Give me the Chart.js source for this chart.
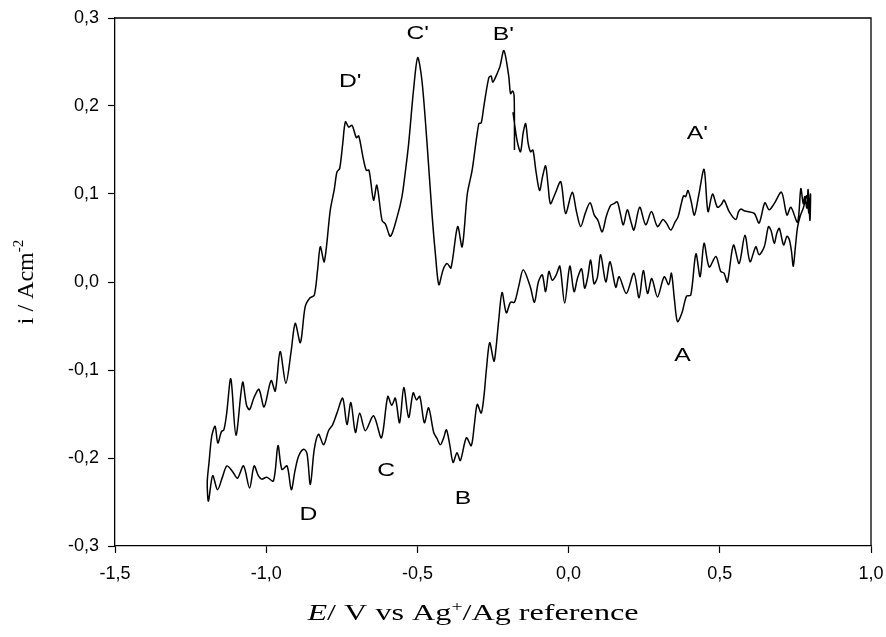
<!DOCTYPE html>
<html lang="en">
<head>
    <meta charset="UTF-8">
    <title>Cyclic voltammogram</title>
    <style>
        body {
            margin: 0;
            padding: 0;
            background-color: #ffffff;
        }

        #wrap {
            width: 886px;
            height: 637px;
        }
    </style>
    <script src="https://cdn.jsdelivr.net/npm/chart.js"></script>
</head>
<body>

<div id="wrap">
    <canvas id="myChart" width="886" height="637"></canvas>
</div>

<script>
    // Scan 1: from the start at -0.18 V towards the positive end (upper branch)
    const forwardE = [-0.184, -0.170, -0.159, -0.150, -0.142, -0.134, -0.126, -0.118, -0.108, -0.096,
        -0.086, -0.076, -0.068, -0.060, -0.045, -0.026, -0.010, 0.012, 0.026, 0.040,
        0.055, 0.071, 0.085, 0.097, 0.111, 0.125, 0.139, 0.150, 0.161, 0.171,
        0.181, 0.194, 0.205, 0.216, 0.235, 0.255, 0.274, 0.294, 0.312, 0.325,
        0.338, 0.352, 0.362, 0.372, 0.380, 0.387, 0.395, 0.405, 0.416, 0.430,
        0.448, 0.461, 0.476, 0.492, 0.505, 0.514, 0.531, 0.553, 0.562, 0.570,
        0.580, 0.592, 0.614, 0.630, 0.649, 0.663, 0.680, 0.704, 0.722, 0.735,
        0.757, 0.768, 0.776, 0.781, 0.788, 0.792, 0.798];
    const forwardI = [0.193, 0.160, 0.148, 0.170, 0.180, 0.158, 0.148, 0.150, 0.126, 0.104,
        0.120, 0.132, 0.110, 0.089, 0.100, 0.114, 0.078, 0.102, 0.080, 0.063,
        0.078, 0.090, 0.076, 0.070, 0.057, 0.075, 0.087, 0.089, 0.091, 0.078,
        0.065, 0.082, 0.070, 0.059, 0.085, 0.065, 0.080, 0.063, 0.071, 0.066,
        0.059, 0.068, 0.074, 0.088, 0.098, 0.097, 0.104, 0.092, 0.076, 0.098,
        0.128, 0.080, 0.100, 0.085, 0.088, 0.093, 0.080, 0.071, 0.080, 0.083,
        0.081, 0.080, 0.078, 0.067, 0.090, 0.082, 0.089, 0.102, 0.076, 0.085,
        0.068, 0.106, 0.089, 0.097, 0.084, 0.105, 0.070];

    // Scan 2: reverse sweep from +0.8 V down to -1.2 V (lower branch)
    const reverseE = [0.800, 0.795, 0.787, 0.777, 0.766, 0.757, 0.750, 0.743, 0.737, 0.730,
        0.722, 0.711, 0.697, 0.689, 0.680, 0.670, 0.661, 0.647, 0.630, 0.619,
        0.600, 0.583, 0.564, 0.545, 0.525, 0.514, 0.503, 0.487, 0.465, 0.448,
        0.435, 0.421, 0.404, 0.390, 0.375, 0.360, 0.350, 0.340, 0.331, 0.316,
        0.294, 0.275, 0.261, 0.247, 0.233, 0.216, 0.191, 0.167, 0.156, 0.137,
        0.123, 0.106, 0.095, 0.084, 0.073, 0.063, 0.053, 0.043, 0.030, 0.018,
        0.004, -0.013, -0.029, -0.041, -0.054, -0.065, -0.076, -0.087, -0.100, -0.113,
        -0.127, -0.150, -0.165, -0.179, -0.192, -0.206, -0.220, -0.231, -0.240, -0.247,
        -0.261, -0.272, -0.280, -0.289, -0.302, -0.311, -0.322, -0.338, -0.358, -0.369,
        -0.382, -0.393, -0.404, -0.414, -0.424, -0.435, -0.446, -0.463, -0.477, -0.492,
        -0.503, -0.514, -0.529, -0.545, -0.559, -0.573, -0.585, -0.598, -0.619, -0.645,
        -0.672, -0.691, -0.705, -0.720, -0.733, -0.747, -0.766, -0.780, -0.794, -0.810,
        -0.827, -0.841, -0.854, -0.865, -0.876, -0.893, -0.905, -0.917, -0.931, -0.948,
        -0.961, -0.976, -0.998, -1.015, -1.026, -1.040, -1.055, -1.075, -1.095, -1.112,
        -1.130, -1.145, -1.161, -1.177, -1.191];
    const reverseI = [0.100, 0.078, 0.098, 0.085, 0.075, 0.062, 0.040, 0.018, 0.035, 0.048,
        0.052, 0.042, 0.061, 0.056, 0.044, 0.058, 0.063, 0.040, 0.031, 0.040,
        0.023, 0.053, 0.021, 0.042, 0.000, 0.010, 0.012, 0.029, 0.017, 0.044,
        0.006, 0.032, -0.015, -0.016, -0.035, -0.045, -0.020, 0.010, -0.003, 0.006,
        -0.017, 0.004, -0.013, 0.013, -0.018, 0.010, -0.013, 0.006, -0.006, 0.023,
        0.000, 0.031, 0.005, -0.002, 0.025, 0.005, -0.007, 0.015, 0.005, -0.011,
        0.018, -0.024, 0.018, 0.008, 0.002, 0.012, -0.011, 0.008, 0.000, -0.023,
        -0.005, 0.014, -0.005, -0.023, -0.023, -0.035, -0.012, -0.043, -0.075, -0.090,
        -0.069, -0.100, -0.130, -0.149, -0.139, -0.160, -0.186, -0.177, -0.203, -0.194,
        -0.205, -0.185, -0.168, -0.178, -0.185, -0.178, -0.171, -0.143, -0.160, -0.130,
        -0.134, -0.126, -0.154, -0.120, -0.160, -0.132, -0.140, -0.130, -0.177, -0.152,
        -0.169, -0.149, -0.171, -0.137, -0.162, -0.132, -0.149, -0.162, -0.169, -0.185,
        -0.173, -0.190, -0.230, -0.195, -0.190, -0.198, -0.215, -0.236, -0.209, -0.213,
        -0.186, -0.226, -0.222, -0.224, -0.220, -0.209, -0.234, -0.209, -0.223, -0.215,
        -0.209, -0.222, -0.236, -0.220, -0.249];

    // Scan 3: back from -1.2 V up to the start potential (upper left branch)
    const returnE = [-1.195, -1.189, -1.180, -1.169, -1.160, -1.148, -1.140, -1.131, -1.117, -1.100,
        -1.078, -1.065, -1.055, -1.040, -1.024, -1.007, -0.984, -0.970, -0.954, -0.935,
        -0.918, -0.904, -0.887, -0.871, -0.855, -0.841, -0.830, -0.821, -0.808, -0.788,
        -0.775, -0.766, -0.757, -0.747, -0.738, -0.727, -0.716, -0.702, -0.694, -0.680,
        -0.669, -0.660, -0.645, -0.634, -0.617, -0.606, -0.589, -0.567, -0.551, -0.540,
        -0.529, -0.512, -0.499, -0.485, -0.468, -0.451, -0.440, -0.429, -0.415, -0.402,
        -0.389, -0.367, -0.352, -0.335, -0.319, -0.297, -0.289, -0.281, -0.264, -0.256,
        -0.251, -0.240, -0.227, -0.214, -0.198, -0.192, -0.185, -0.180, -0.179];
    const returnI = [-0.228, -0.205, -0.175, -0.164, -0.183, -0.170, -0.168, -0.150, -0.110, -0.174,
        -0.114, -0.140, -0.145, -0.131, -0.122, -0.142, -0.112, -0.124, -0.079, -0.115,
        -0.080, -0.047, -0.069, -0.028, -0.018, -0.015, 0.014, 0.040, 0.023, 0.082,
        0.105, 0.125, 0.129, 0.157, 0.182, 0.176, 0.178, 0.164, 0.166, 0.142,
        0.127, 0.127, 0.093, 0.110, 0.070, 0.066, 0.052, 0.074, 0.097, 0.125,
        0.157, 0.221, 0.255, 0.229, 0.157, 0.074, 0.030, -0.003, 0.014, 0.021,
        0.016, 0.063, 0.040, 0.100, 0.127, 0.180, 0.181, 0.198, 0.232, 0.234,
        0.227, 0.234, 0.245, 0.263, 0.234, 0.214, 0.217, 0.210, 0.150];

    // Peak labels
    const peakNames = ["D'", "C'", "B'", "A'", "A", "B", "C", "D"];
    const peakE = [-0.722, -0.499, -0.216, 0.426, 0.377, -0.349, -0.603, -0.860];
    const peakI = [0.228, 0.282, 0.281, 0.169, -0.084, -0.246, -0.215, -0.264];

    // Axis ticks
    const xTicks = [-1.5, -1.0, -0.5, 0.0, 0.5, 1.0];
    const xTickLabels = ['-1,5', '-1,0', '-0,5', '0,0', '0,5', '1,0'];
    const yTicks = [-0.3, -0.2, -0.1, 0.0, 0.1, 0.2, 0.3];
    const yTickLabels = ['-0,3', '-0,2', '-0,1', '0,0', '0,1', '0,2', '0,3'];

    const allE = forwardE.concat(reverseE, returnE);
    const allI = forwardI.concat(reverseI, returnI);
    const cvPoints = allE.map((e, k) => ({ x: e, y: allI[k] }));

    const sansFont = "'Liberation Sans', Arial, sans-serif";
    const serifFont = "'Liberation Serif', 'Times New Roman', serif";

    // draw a row of text pieces (normal / italic / superscript), stretched sideways like the original
    function drawPieces(ctx, pieces, x, y, stretch) {
        ctx.save();
        ctx.translate(x, y);
        ctx.scale(stretch, 1);
        let cx = 0;
        pieces.forEach(p => {
            ctx.font = p.font;
            ctx.fillText(p.text, cx, p.dy || 0);
            cx += ctx.measureText(p.text).width;
        });
        ctx.restore();
    }

    function piecesWidth(ctx, pieces) {
        let w = 0;
        pieces.forEach(p => {
            ctx.font = p.font;
            w += ctx.measureText(p.text).width;
        });
        return w;
    }

    const decorations = {
        id: 'decorations',
        afterDraw(chart) {
            const ctx = chart.ctx;
            const area = chart.chartArea;
            const xs = chart.scales.x;
            const ys = chart.scales.y;

            // frame on top and right
            ctx.save();
            ctx.strokeStyle = '#000';
            ctx.lineWidth = 1.3;
            ctx.beginPath();
            ctx.moveTo(area.left, area.top);
            ctx.lineTo(area.right, area.top);
            ctx.lineTo(area.right, area.bottom);
            ctx.stroke();
            ctx.restore();

            // peak labels
            ctx.save();
            ctx.fillStyle = '#000';
            ctx.textAlign = 'center';
            ctx.textBaseline = 'middle';
            peakNames.forEach((name, k) => {
                const px = xs.getPixelForValue(peakE[k]);
                const py = ys.getPixelForValue(peakI[k]);
                ctx.save();
                ctx.translate(px, py);
                ctx.scale(1.3, 1);
                ctx.font = '19px ' + sansFont;
                ctx.fillText(name, 0, 0);
                ctx.restore();
            });
            ctx.restore();

            // x axis title
            ctx.save();
            ctx.fillStyle = '#000';
            ctx.textAlign = 'left';
            ctx.textBaseline = 'alphabetic';
            const xTitle = [
                { text: 'E', font: 'italic 23px ' + serifFont },
                { text: '/ V vs Ag', font: '23px ' + serifFont },
                { text: '+', font: '14px ' + serifFont, dy: -9 },
                { text: '/Ag reference', font: '23px ' + serifFont }
            ];
            const xStretch = 1.4;
            const xw = piecesWidth(ctx, xTitle) * xStretch;
            drawPieces(ctx, xTitle, 473 - xw / 2, 620, xStretch);
            ctx.restore();

            // y axis title (rotated)
            ctx.save();
            ctx.fillStyle = '#000';
            ctx.textAlign = 'left';
            ctx.textBaseline = 'alphabetic';
            const yTitle = [
                { text: 'i / Acm', font: '24px ' + serifFont },
                { text: '-2', font: '15px ' + serifFont, dy: -10 }
            ];
            const yw = piecesWidth(ctx, yTitle);
            ctx.translate(22, (area.top + area.bottom) / 2);
            ctx.rotate(-Math.PI / 2);
            drawPieces(ctx, yTitle, -yw / 2, 11, 1);
            ctx.restore();
        }
    };

    const ctx = document.getElementById('myChart').getContext('2d');
    const chart = new Chart(ctx, {
        type: 'scatter',
        data: {
            datasets: [{
                label: 'CV',
                data: cvPoints,
                showLine: true,
                borderColor: '#000',
                borderWidth: 1.5,
                pointRadius: 0,
                tension: 0.3,
                fill: false
            }]
        },
        options: {
            responsive: false,
            animation: false,
            layout: {
                autoPadding: false,
                padding: { top: 18, right: 15, left: 0, bottom: 0 }
            },
            plugins: {
                legend: { display: false },
                tooltip: { enabled: false }
            },
            scales: {
                x: {
                    type: 'linear',
                    min: -1.5,
                    max: 1.0,
                    afterBuildTicks: scale => {
                        scale.ticks = xTicks.map(v => ({ value: v }));
                    },
                    afterFit: scale => {
                        scale.height = 91;
                        scale.paddingLeft = 0;
                        scale.paddingRight = 0;
                    },
                    grid: {
                        display: true,
                        drawOnChartArea: false,
                        drawTicks: true,
                        tickLength: 7,
                        tickColor: '#000',
                        tickWidth: 1.2
                    },
                    border: { display: true, color: '#000', width: 1.3 },
                    ticks: {
                        color: '#000',
                        padding: 10,
                        maxRotation: 0,
                        font: { family: sansFont, size: 18 },
                        callback: (value, index) => xTickLabels[index]
                    }
                },
                y: {
                    type: 'linear',
                    min: -0.3,
                    max: 0.3,
                    afterBuildTicks: scale => {
                        scale.ticks = yTicks.map(v => ({ value: v }));
                    },
                    afterFit: scale => {
                        scale.width = 115;
                        scale.paddingTop = 0;
                        scale.paddingBottom = 0;
                    },
                    grid: {
                        display: true,
                        drawOnChartArea: false,
                        drawTicks: true,
                        tickLength: 7,
                        tickColor: '#000',
                        tickWidth: 1.2
                    },
                    border: { display: true, color: '#000', width: 1.3 },
                    ticks: {
                        color: '#000',
                        padding: 9,
                        font: { family: sansFont, size: 18 },
                        callback: (value, index) => yTickLabels[index]
                    }
                }
            }
        },
        plugins: [decorations]
    });
</script>

</body>
</html>
